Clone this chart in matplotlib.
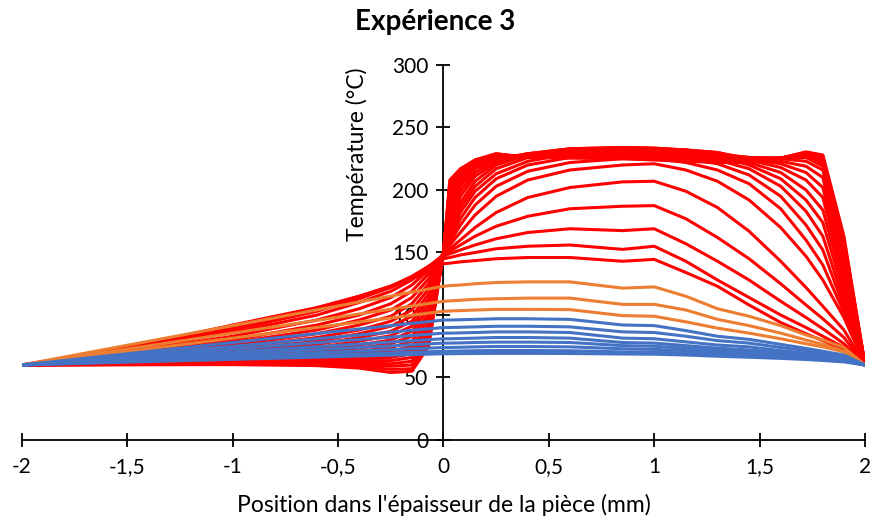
import matplotlib
matplotlib.use("Agg")
import matplotlib.pyplot as plt

plt.rcParams["font.family"] = ["Lato", "DejaVu Sans"]

# positions dans l'épaisseur (mm)
x_pos = [-2, -1.5, -1, -0.6, -0.4, -0.25, -0.15, -0.07, 0, 0.03, 0.08, 0.15, 0.25,
         0.4, 0.6, 0.85, 1.0, 1.15, 1.3, 1.45, 1.6, 1.72, 1.8, 1.9, 2]

# premières courbes (bleu)
temp_blue = [
    [60, 69, 78, 85.2, 88.8, 91.5, 93.3, 94.7, 96, 96, 96.2, 96.5, 97, 97, 96.5, 92, 91.5, 87.5, 83, 80.5, 76.5, 73.3, 71, 68, 60],
    [60, 67.5, 75, 81, 84, 86.3, 87.8, 88.9, 90, 90, 90.2, 90.5, 91, 91, 90.5, 86.5, 86, 83, 79.5, 77.5, 74, 71.5, 69.5, 66.5, 60],
    [60, 66.4, 72.8, 77.9, 80.4, 82.3, 83.6, 84.6, 85.5, 85.5, 85.7, 86, 86.5, 86.5, 86, 81.5, 81, 78.5, 76, 74.5, 71.5, 69.5, 68, 65.5, 60],
    [60, 65.3, 70.5, 74.7, 76.8, 78.4, 79.4, 80.3, 81, 81, 81.2, 81.5, 82, 82, 81.5, 78, 77.5, 75.5, 73.5, 72, 70, 68, 66.5, 64.5, 60],
    [60, 64.4, 68.8, 72.3, 74, 75.3, 76.2, 76.9, 77.5, 77.5, 77.7, 78, 78.3, 78.3, 78, 75.5, 75, 73.5, 71.5, 70.5, 68.5, 67, 65.5, 64, 60],
    [60, 63.5, 67, 69.8, 71.2, 72.3, 73, 73.5, 74, 74, 74.2, 74.5, 74.8, 74.8, 74.5, 73, 72.5, 71.5, 70, 69, 67.5, 66, 65, 63.5, 60],
    [60, 62.8, 65.5, 67.7, 68.8, 69.6, 70.2, 70.6, 71, 71, 71.2, 71.4, 71.6, 71.6, 71.4, 70.5, 70.3, 69.5, 68.5, 67.5, 66.5, 65.2, 64.3, 63, 60],
    [60, 62.3, 64.5, 66.3, 67.2, 67.9, 68.3, 68.7, 69, 69, 69.1, 69.2, 69.3, 69.3, 69.2, 68.8, 68.6, 68, 67, 66.2, 65.3, 64.4, 63.6, 62.5, 60],
]

# courbes intermédiaires (orange)
temp_orange = [
    [60, 75.8, 91.5, 104.1, 110.4, 115.1, 118.3, 120.8, 123, 123.5, 124, 125, 126, 126.5, 126.5, 121.5, 122.5, 115, 105, 99, 91.5, 84, 80, 74, 60],
    [60, 72.8, 85.5, 95.7, 100.8, 104.6, 107.2, 109.2, 111, 111.3, 111.8, 112.5, 113, 113.5, 113.5, 108.5, 108.5, 104, 96.5, 91.5, 85.5, 80, 76.5, 71, 60],
    [60, 70.8, 81.5, 90.1, 94.4, 97.6, 99.8, 101.5, 103, 103.2, 103.5, 104, 104.5, 104.5, 104.3, 99.5, 99, 94.5, 89.5, 85.5, 81, 77, 74.5, 70.5, 60],
]

# dernières courbes (rouge)
temp_red = [
    [60, 74, 92, 106, 115, 123, 129, 135, 141, 141.5, 142.5, 143.5, 145, 146, 146, 143, 144.5, 134, 123, 108, 94, 85, 79.5, 72, 60],
    [60, 73.5, 91, 105.5, 115, 123, 130, 137, 145, 146, 148, 150, 153, 155, 156, 152.5, 155, 143, 128, 114, 100, 90, 83, 74, 60],
    [60, 73, 90, 105, 114.5, 123, 131, 139, 147, 149, 152, 156, 161, 166, 169, 167.5, 169, 157, 143, 128, 111, 98, 89, 77, 60],
    [60, 72, 88, 103, 113, 122, 130, 139, 148, 151, 156, 163, 171, 179, 185, 187, 187.5, 177, 162, 145, 125, 108, 97, 82, 60],
    [60, 71, 86, 100, 110, 119, 128, 138, 148, 153, 160, 170, 182, 194, 202, 206.5, 207, 199, 186, 167, 143, 122, 107, 88, 60],
    [60, 70, 83, 96, 105, 114, 124, 136, 149, 156, 166, 180, 195, 208, 216, 220, 221, 216, 207, 192, 170, 147, 128, 98, 60],
    [60, 69, 80, 92, 100, 109, 119, 133, 149, 158, 172, 188, 203, 215, 222, 225, 225, 222, 216, 205, 185, 160, 140, 102, 60],
    [60, 68, 78, 88, 96, 104, 114, 129, 150, 161, 177, 194, 209, 220, 226, 228, 228, 225, 221, 212, 195, 172, 152, 106, 60],
    [60, 67, 76, 85, 92, 99, 109, 125, 150, 164, 182, 199, 213, 223, 229, 230, 230, 228, 224, 217, 203, 183, 163, 111, 60],
    [60, 66, 74, 82, 88, 95, 104, 121, 150, 167, 186, 203, 217, 226, 231, 232, 232, 231, 227, 220, 209, 192, 174, 117, 60],
    [60, 65.5, 72, 79, 85, 91, 99, 117, 150, 170, 190, 207, 220, 228, 232, 233, 233, 232, 229, 222, 214, 200, 184, 123, 60],
    [60, 65, 70.5, 76.5, 82, 87, 95, 113, 150, 174, 195, 211, 222, 229, 233, 234, 233.5, 232, 230, 224, 218, 208, 194, 129, 60],
    [60, 64.5, 69, 74, 79, 83.5, 91, 109, 150, 178, 199, 214, 224, 229, 233, 234, 233.5, 232, 230, 225, 221, 214, 202, 135, 60],
    [60, 64, 67.5, 72, 76, 80, 87, 105, 150, 182, 203, 217, 225, 229, 232, 233, 232, 231, 229, 226, 223, 219, 210, 140, 60],
    [60, 63.5, 66.5, 70, 73.5, 77, 83, 101, 150, 186, 206, 219, 226, 228, 231, 231, 230, 229, 228, 226, 225, 223, 216, 145, 60],
    [60, 63, 65.5, 68.5, 71, 74, 79, 97, 150, 190, 208, 220, 226.5, 227, 230, 230, 229, 228, 227, 226, 225.5, 226, 219, 147, 60],
    [60, 62.5, 64.5, 67, 69, 71, 75, 93, 150, 193, 210, 221, 227, 227, 229, 229, 228, 227, 226, 225.5, 225.5, 227, 221, 149, 60],
    [60, 62, 63.5, 65.5, 67, 68.5, 72, 90, 150, 196, 211, 222, 227.5, 226.5, 228.5, 228, 227, 226, 225, 225, 225.5, 228, 222, 151, 60],
    [60, 61.5, 62.5, 64, 65, 66, 69, 87, 150, 198, 212, 222.5, 228, 226.5, 228, 227.5, 226.5, 225.5, 224.5, 224.5, 225.5, 228.5, 223, 153, 60],
    [60, 61, 62, 63, 63.5, 63.5, 66, 84, 150, 200, 213, 223, 228, 226, 227.5, 227, 226, 225, 224, 224, 225.5, 229, 224, 155, 60],
    [60, 60.8, 61.5, 62, 62, 61, 63, 81, 150, 202, 214, 223, 228.5, 226, 227, 226.5, 225.5, 224.5, 223.5, 223.5, 225.5, 229.5, 225, 157, 60],
    [60, 60.5, 61, 61, 60.5, 59, 60, 79, 150, 204, 215, 223.5, 228.5, 226, 226.5, 226, 225, 224, 223, 223, 225.5, 230, 226, 159, 60],
    [60, 60.3, 60.5, 60.3, 59, 56.5, 57, 77, 150, 206, 216, 224, 229, 226, 226, 225.5, 224.5, 223.5, 222.5, 222.5, 225.5, 230, 227, 161, 60],
    [60, 60.2, 60.3, 59.5, 57.5, 54, 55, 75, 150, 208, 217, 224, 229, 226, 225.5, 225, 224, 223, 222, 222, 225.5, 230.5, 228, 163, 60],
]

xticks = [-2, -1.5, -1, -0.5, 0, 0.5, 1, 1.5, 2]
xtick_labels = ["-2", "-1,5", "-1", "-0,5", "0", "0,5", "1", "1,5", "2"]
yticks = [0, 50, 100, 150, 200, 250, 300]

fig = plt.figure(figsize=(8.74, 5.23), dpi=100)
ax = fig.add_axes([0.02517, 0.1587, 0.96453, 0.71702])

for t in temp_red:
    ax.plot(x_pos, t, color="#FF0000", lw=2.2, zorder=2)
for t in temp_orange:
    ax.plot(x_pos, t, color="#ED7D31", lw=2.2, zorder=3)
for t in temp_blue:
    ax.plot(x_pos, t, color="#4472C4", lw=2.2, zorder=4)

ax.set_xlim(-2, 2)
ax.set_ylim(0, 300)

ax.spines["left"].set_position(("data", 0))
ax.spines["bottom"].set_position(("data", 0))
ax.spines["top"].set_visible(False)
ax.spines["right"].set_visible(False)
for s in ["left", "bottom"]:
    ax.spines[s].set_linewidth(1.3)
    ax.spines[s].set_zorder(1)

ax.set_xticks(xticks)
ax.set_xticklabels(xtick_labels)
ax.set_yticks(yticks)
ax.tick_params(direction="inout", length=10, width=1.3, labelsize=15)
ax.tick_params(axis="x", pad=7)
ax.tick_params(axis="y", pad=6)

ax.set_xlabel("Position dans l'épaisseur de la pièce (mm)", fontsize=16.5)
ax.xaxis.set_label_coords(0.5, -0.173)
ax.xaxis.label.set_va("center")
ax.set_ylabel("Température (°C)", fontsize=16.5)
ax.yaxis.set_label_coords(0.397, 0.761)
ax.yaxis.label.set_va("center")

fig.text(0.498, 0.958, "Expérience 3", ha="center", va="center",
         fontsize=20, fontweight="bold")

plt.savefig("out.png", dpi=100)
